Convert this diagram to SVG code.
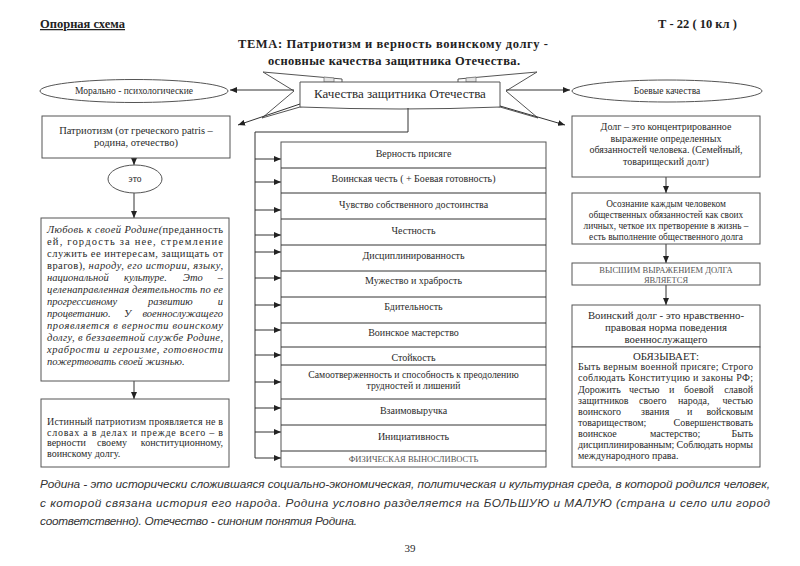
<svg xmlns="http://www.w3.org/2000/svg" width="800" height="566" viewBox="0 0 800 566">
<style>
.box{fill:#fff;stroke:#555;stroke-width:1}
.ln{stroke:#333;stroke-width:1;fill:none}
.t{font-family:"Liberation Serif","Times New Roman",serif;fill:#2a2a2a}
.c{text-anchor:middle}
.e{text-anchor:end}
.i{font-style:italic}
.s10{font-size:10px}
.s105{font-size:10.5px}
.g{fill:#555}
.hd{font-family:"Liberation Serif","Times New Roman",serif;font-weight:bold;font-size:12.5px;fill:#222}
.ft{font-family:"Liberation Sans",Arial,sans-serif;font-style:italic;font-size:11.8px;fill:#333}
</style>
<defs>
<marker id="ah" markerUnits="userSpaceOnUse" markerWidth="7" markerHeight="6" refX="7" refY="3" orient="auto">
<path d="M0,0 L7,3 L0,6 z" fill="#222"/>
</marker>
</defs>
<rect width="800" height="566" fill="#fff"/>

<g id="header">
<text class="hd" x="40" y="28" text-decoration="underline">Опорная схема</text>
<text class="hd" x="658" y="28">Т - 22 ( 10 кл )</text>
<text class="hd" x="238" y="48" textLength="310" lengthAdjust="spacing">ТЕМА: Патриотизм и верность воинскому долгу -</text>
<text class="hd" x="268" y="65" textLength="252" lengthAdjust="spacing">основные качества защитника Отечества.</text>
</g>

<g id="ribbon">
<polygon points="263,72 342,79 342,100 300,107 262,118 294,91" fill="#fff" stroke="#555"/>
<polygon points="537,72 458,79 458,100 500,107 538,118 506,91" fill="#fff" stroke="#555"/>
<polygon points="324,77 334,78 334,82 324,82" fill="#e4e4e4" stroke="#777" stroke-width="0.8"/>
<polygon points="476,77 466,78 466,82 476,82" fill="#e4e4e4" stroke="#777" stroke-width="0.8"/>
<path d="M300,82 L500,82 L500,107 Q400,111 300,107 Z" fill="#fff" stroke="#555"/>
<text class="t c" x="400" y="98" font-size="13">Качества защитника Отечества</text>
</g>

<g id="connectors">
<line class="ln" x1="294" y1="90" x2="230" y2="90" marker-end="url(#ah)"/>
<line class="ln" x1="300" y1="104" x2="238" y2="125" marker-end="url(#ah)"/>
<line class="ln" x1="506" y1="90" x2="570" y2="90" marker-end="url(#ah)"/>
<line class="ln" x1="500" y1="106" x2="565" y2="125" marker-end="url(#ah)"/>
<polyline class="ln" points="408,108 408,132 255,132 255,458"/>
<line class="ln" x1="255" y1="159" x2="281" y2="159" marker-end="url(#ah)"/>
<line class="ln" x1="255" y1="182" x2="281" y2="182" marker-end="url(#ah)"/>
<line class="ln" x1="255" y1="210" x2="281" y2="210" marker-end="url(#ah)"/>
<line class="ln" x1="255" y1="235" x2="281" y2="235" marker-end="url(#ah)"/>
<line class="ln" x1="255" y1="252" x2="281" y2="252" marker-end="url(#ah)"/>
<line class="ln" x1="255" y1="278" x2="281" y2="278" marker-end="url(#ah)"/>
<line class="ln" x1="255" y1="305" x2="281" y2="305" marker-end="url(#ah)"/>
<line class="ln" x1="255" y1="330" x2="281" y2="330" marker-end="url(#ah)"/>
<line class="ln" x1="255" y1="355" x2="281" y2="355" marker-end="url(#ah)"/>
<line class="ln" x1="255" y1="382" x2="281" y2="382" marker-end="url(#ah)"/>
<line class="ln" x1="255" y1="408" x2="281" y2="408" marker-end="url(#ah)"/>
<line class="ln" x1="255" y1="432" x2="281" y2="432" marker-end="url(#ah)"/>
<line class="ln" x1="255" y1="458" x2="281" y2="458" marker-end="url(#ah)"/>
<line class="ln" x1="134" y1="158" x2="134" y2="165" marker-end="url(#ah)"/>
<line class="ln" x1="134" y1="193" x2="134" y2="218" marker-end="url(#ah)"/>
<line class="ln" x1="134" y1="381" x2="134" y2="399" marker-end="url(#ah)"/>
<line class="ln" x1="666" y1="177" x2="666" y2="193" marker-end="url(#ah)"/>
<line class="ln" x1="666" y1="244" x2="666" y2="263" marker-end="url(#ah)"/>
<line class="ln" x1="666" y1="285" x2="666" y2="305" marker-end="url(#ah)"/>
</g>

<g id="moral">
<ellipse class="box" cx="134" cy="91" rx="94" ry="11.5"/>
<text class="t c" x="134" y="94" font-size="9.5">Морально - психологические</text>
</g>

<g id="patriotism">
<rect class="box" x="42" y="116" width="188" height="42"/>
<text class="t c s105" x="136" y="134">Патриотизм (от греческого patris –</text>
<text class="t c s105" x="136" y="145.5">родина, отечество)</text>
</g>

<g id="eto">
<ellipse class="box" cx="135" cy="179" rx="27" ry="14"/>
<text class="t c" x="135" y="182" font-size="9.5">это</text>
</g>

<g id="love">
<rect class="box" x="41" y="218" width="188" height="163"/>
<text class="t s105" x="47" y="233" textLength="176" lengthAdjust="spacing"><tspan class="i">Любовь к своей Родине(</tspan>преданность</text>
<text class="t s105" x="47" y="245" textLength="176" lengthAdjust="spacing">ей, гордость за нее, стремление</text>
<text class="t s105" x="47" y="257" textLength="176" lengthAdjust="spacing">служить ее интересам, защищать от</text>
<text class="t s105" x="47" y="269" textLength="176" lengthAdjust="spacing">врагов)<tspan class="i">, народу, его истории, языку,</tspan></text>
<text class="t s105 i" x="47" y="281">национальной</text>
<text class="t s105 i" x="124" y="281">культуре.</text>
<text class="t s105 i" x="183" y="281">Это</text>
<text class="t s105 i e" x="223" y="281">–</text>
<text class="t s105 i" x="47" y="293" textLength="176" lengthAdjust="spacing">целенаправленная деятельность по ее</text>
<text class="t s105 i" x="47" y="305">прогрессивному</text>
<text class="t s105 i" x="148" y="305">развитию</text>
<text class="t s105 i e" x="223" y="305">и</text>
<text class="t s105 i" x="47" y="317">процветанию.</text>
<text class="t s105 i" x="124" y="317">У</text>
<text class="t s105 i e" x="223" y="317">военнослужащего</text>
<text class="t s105 i" x="47" y="329" textLength="176" lengthAdjust="spacing">проявляется в верности воинскому</text>
<text class="t s105 i" x="47" y="341" textLength="176" lengthAdjust="spacing">долгу, в беззаветной службе Родине,</text>
<text class="t s105 i" x="47" y="353" textLength="176" lengthAdjust="spacing">храбрости и героизме, готовности</text>
<text class="t s105 i" x="47" y="365">пожертвовать своей жизнью.</text>
</g>

<g id="truth">
<rect class="box" x="41" y="399" width="188" height="68"/>
<text class="t s10" x="47" y="425" textLength="176" lengthAdjust="spacing">Истинный патриотизм проявляется не в</text>
<text class="t s10" x="47" y="435.5" textLength="176" lengthAdjust="spacing">словах а в делах и прежде всего – в</text>
<text class="t s10" x="47" y="446">верности</text>
<text class="t s10" x="97" y="446">своему</text>
<text class="t s10 e" x="223" y="446">конституционному,</text>
<text class="t s10" x="47" y="456.5">воинскому долгу.</text>
</g>

<g id="qualities">
<rect class="box" x="281" y="142" width="265" height="325"/>
<g class="ln">
<line x1="281" y1="168" x2="546" y2="168"/>
<line x1="281" y1="193" x2="546" y2="193"/>
<line x1="281" y1="219" x2="546" y2="219"/>
<line x1="281" y1="245" x2="546" y2="245"/>
<line x1="281" y1="271" x2="546" y2="271"/>
<line x1="281" y1="297" x2="546" y2="297"/>
<line x1="281" y1="323" x2="546" y2="323"/>
<line x1="281" y1="347" x2="546" y2="347"/>
<line x1="281" y1="365" x2="546" y2="365"/>
<line x1="281" y1="399" x2="546" y2="399"/>
<line x1="281" y1="425" x2="546" y2="425"/>
<line x1="281" y1="451" x2="546" y2="451"/>
</g>
<text class="t c s10" x="413.5" y="157">Верность присяге</text>
<text class="t c s10" x="413.5" y="182">Воинская честь ( + Боевая готовность)</text>
<text class="t c s10" x="413.5" y="207.5">Чувство собственного достоинства</text>
<text class="t c s10" x="413.5" y="233.5">Честность</text>
<text class="t c s10" x="413.5" y="258.5">Дисциплинированность</text>
<text class="t c s10" x="413.5" y="284">Мужество и храбрость</text>
<text class="t c s10" x="413.5" y="310">Бдительность</text>
<text class="t c s10" x="413.5" y="336">Воинское мастерство</text>
<text class="t c s10" x="413.5" y="361">Стойкость</text>
<text class="t c" x="413.5" y="377.5" font-size="9.7">Самоотверженность и способность к преодолению</text>
<text class="t c" x="413.5" y="388.5" font-size="9.7">трудностей и лишений</text>
<text class="t c s10" x="413.5" y="413.5">Взаимовыручка</text>
<text class="t c s10" x="413.5" y="439.5">Инициативность</text>
<text class="t c g" x="413.5" y="462" font-size="8.5">ФИЗИЧЕСКАЯ ВЫНОСЛИВОСТЬ</text>
</g>

<g id="combat">
<ellipse class="box" cx="667" cy="91" rx="95" ry="11"/>
<text class="t c" x="667" y="94" font-size="9.5">Боевые качества</text>
</g>

<g id="duty">
<rect class="box" x="572" y="116" width="188" height="61"/>
<text class="t c s10" x="666" y="130">Долг – это концентрированное</text>
<text class="t c s10" x="666" y="141.5">выражение определенных</text>
<text class="t c s10" x="666" y="153">обязанностей человека. (Семейный,</text>
<text class="t c s10" x="666" y="165">товарищеский долг)</text>
</g>

<g id="awareness">
<rect class="box" x="572" y="193" width="188" height="51"/>
<text class="t c" x="666" y="206.5" font-size="9.3">Осознание каждым человеком</text>
<text class="t c" x="666" y="217.5" font-size="9.3">общественных обязанностей как своих</text>
<text class="t c" x="666" y="228.5" font-size="9.3">личных, четкое их претворение в жизнь –</text>
<text class="t c" x="666" y="239.5" font-size="9.3">есть выполнение общественного долга</text>
</g>

<g id="highest">
<rect class="box" x="572" y="263" width="188" height="22"/>
<text class="t c g" x="666" y="273" font-size="8.5">ВЫСШИМ ВЫРАЖЕНИЕМ ДОЛГА</text>
<text class="t c g" x="666" y="282.5" font-size="8.5">ЯВЛЯЕТСЯ</text>
</g>

<g id="military-duty">
<rect class="box" x="572" y="305" width="188" height="42"/>
<text class="t c" x="666" y="319" font-size="10.8">Воинский долг -  это нравственно-</text>
<text class="t c" x="666" y="331" font-size="10.8">правовая норма поведения</text>
<text class="t c" x="666" y="343" font-size="10.8">военнослужащего</text>
</g>

<g id="obliges">
<rect class="box" x="572" y="347" width="188" height="120"/>
<text class="t c" x="666" y="360" font-size="10.8">ОБЯЗЫВАЕТ:</text>
<text class="t s10" x="578" y="370" textLength="175" lengthAdjust="spacing">Быть верным военной присяге; Строго</text>
<text class="t s10" x="578" y="381" textLength="175" lengthAdjust="spacing">соблюдать Конституцию и законы РФ;</text>
<text class="t s10" x="578" y="392.5">Дорожить</text>
<text class="t s10" x="629" y="392.5">честью</text>
<text class="t s10" x="669" y="392.5">и</text>
<text class="t s10" x="684" y="392.5">боевой</text>
<text class="t s10 e" x="753" y="392.5">славой</text>
<text class="t s10" x="578" y="403.5">защитников</text>
<text class="t s10" x="639" y="403.5">своего</text>
<text class="t s10" x="678" y="403.5">народа,</text>
<text class="t s10 e" x="753" y="403.5">честью</text>
<text class="t s10" x="578" y="414.5">воинского</text>
<text class="t s10" x="641" y="414.5">звания</text>
<text class="t s10" x="687" y="414.5">и</text>
<text class="t s10 e" x="753" y="414.5">войсковым</text>
<text class="t s10" x="578" y="425.5">товариществом;</text>
<text class="t s10 e" x="753" y="425.5">Совершенствовать</text>
<text class="t s10" x="578" y="436.5">воинское</text>
<text class="t s10" x="650" y="436.5">мастерство;</text>
<text class="t s10 e" x="753" y="436.5">Быть</text>
<text class="t s10" x="578" y="447.5" textLength="175" lengthAdjust="spacing">дисциплинированным; Соблюдать нормы</text>
<text class="t s10" x="578" y="459">международного права.</text>
</g>

<g id="footer">
<text class="ft" x="40" y="488" textLength="730" lengthAdjust="spacing">Родина - это исторически сложившаяся социально-экономическая, политическая и культурная среда, в которой родился человек,</text>
<text class="ft" x="40" y="507" textLength="730" lengthAdjust="spacing">с которой связана история его народа. Родина условно разделяется на БОЛЬШУЮ и МАЛУЮ (страна и село или город</text>
<text class="ft" x="40" y="525" textLength="317" lengthAdjust="spacing">соответственно). Отечество - синоним понятия Родина.</text>
<text class="t c" x="410" y="552" font-size="11">39</text>
</g>
</svg>
